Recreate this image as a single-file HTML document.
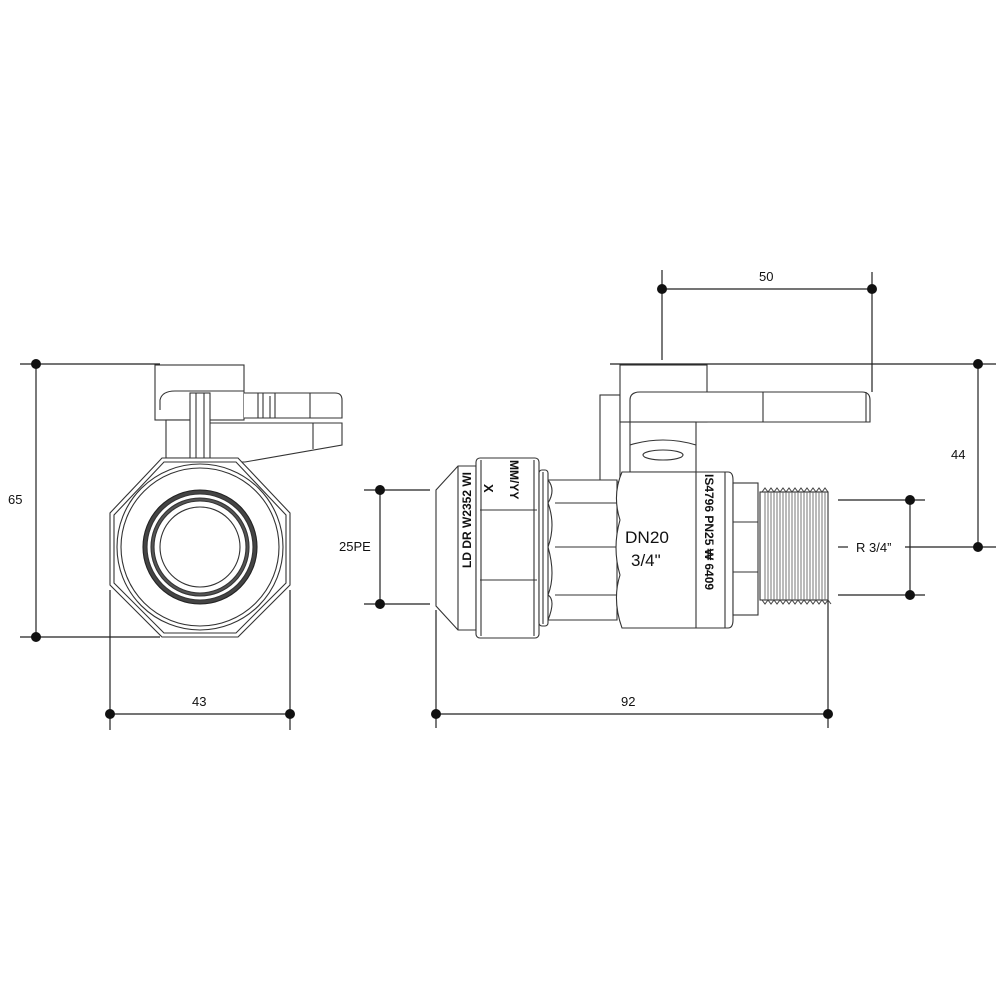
<!DOCTYPE html>
<html><head><meta charset="utf-8"><style>
html,body{margin:0;padding:0;background:#fff;}
svg{display:block;}
text{font-family:"Liberation Sans",sans-serif;fill:#111;}
</style></head><body>
<svg width="1000" height="1000" viewBox="0 0 1000 1000" xmlns="http://www.w3.org/2000/svg">
<g stroke="#222" stroke-width="1.2" fill="none">
<line x1="20" y1="364" x2="160" y2="364"/>
<line x1="20" y1="637" x2="160" y2="637"/>
<line x1="36" y1="364" x2="36" y2="637"/>
<line x1="110" y1="590" x2="110" y2="730"/>
<line x1="290" y1="590" x2="290" y2="730"/>
<line x1="110" y1="714" x2="290" y2="714"/>
<line x1="662" y1="270" x2="662" y2="360"/>
<line x1="872" y1="272" x2="872" y2="392"/>
<line x1="662" y1="289" x2="872" y2="289"/>
<line x1="610" y1="364" x2="996" y2="364"/>
<line x1="978" y1="364" x2="978" y2="547"/>
<line x1="838" y1="547" x2="848" y2="547"/>
<line x1="905" y1="547" x2="996" y2="547"/>
<line x1="838" y1="500" x2="925" y2="500"/>
<line x1="838" y1="595" x2="925" y2="595"/>
<line x1="910" y1="500" x2="910" y2="595"/>
<line x1="364" y1="490" x2="430" y2="490"/>
<line x1="364" y1="604" x2="430" y2="604"/>
<line x1="380" y1="490" x2="380" y2="604"/>
<line x1="436" y1="610" x2="436" y2="728"/>
<line x1="828" y1="600" x2="828" y2="728"/>
<line x1="436" y1="714" x2="828" y2="714"/>
</g>
<g fill="#111">
<circle cx="36" cy="364" r="5"/><circle cx="36" cy="637" r="5"/>
<circle cx="110" cy="714" r="5"/><circle cx="290" cy="714" r="5"/>
<circle cx="662" cy="289" r="5"/><circle cx="872" cy="289" r="5"/>
<circle cx="978" cy="364" r="5"/><circle cx="978" cy="547" r="5"/>
<circle cx="910" cy="500" r="5"/><circle cx="910" cy="595" r="5"/>
<circle cx="380" cy="490" r="5"/><circle cx="380" cy="604" r="5"/>
<circle cx="436" cy="714" r="5"/><circle cx="828" cy="714" r="5"/>
</g>
<g font-size="13">
<text x="8" y="504">65</text>
<text x="192" y="706">43</text>
<text x="759" y="281">50</text>
<text x="951" y="459">44</text>
<text x="856" y="552">R 3/4”</text>
<text x="339" y="551">25PE</text>
<text x="621" y="706">92</text>
</g>

<g stroke="#333" stroke-width="1.1" fill="#fff">
<rect x="155" y="365" width="89" height="55"/>
<rect x="166" y="420" width="35" height="38"/>
<path d="M201 423 L342 423 L342 445 L245 462 L201 462 Z"/>
<line x1="313" y1="423" x2="313" y2="449"/>
<path d="M160 410 L160 400 Q162 391 175 391 L244 391"/>
<path d="M244 393 L335 393 Q342 393 342 400 L342 418 L244 418"/>
<line x1="258" y1="393" x2="258" y2="418"/><line x1="263" y1="393" x2="263" y2="418"/>
<line x1="270" y1="396" x2="270" y2="418"/><line x1="275" y1="393" x2="275" y2="418"/>
<line x1="310" y1="393" x2="310" y2="418"/>
<rect x="190" y="393" width="20" height="67"/>
<line x1="196" y1="393" x2="196" y2="460"/><line x1="204" y1="393" x2="204" y2="460"/>
<polygon points="162,458 238,458 290,513 290,585 238,637 162,637 110,585 110,513"/>
<polygon points="164,462 236,462 286,515 286,583 236,633 164,633 114,583 114,515" fill="none"/>
<circle cx="200" cy="547" r="83"/>
<circle cx="200" cy="547" r="79" fill="none"/>
<circle cx="200" cy="547" r="57" fill="#444" stroke="#222"/>
<circle cx="200" cy="547" r="53" fill="#fff"/>
<circle cx="200" cy="547" r="49" fill="#555"/>
<circle cx="200" cy="547" r="46" fill="#fff"/>
<circle cx="200" cy="547" r="40"/>
</g>

<g stroke="#333" stroke-width="1.1" fill="#fff">
<rect x="600" y="395" width="20" height="87"/>
<rect x="620" y="365" width="87" height="57"/>
<path d="M630 422 L630 400 Q630 392 640 392 L862 392 Q870 392 870 400 L870 422 Z"/>
<line x1="763" y1="392" x2="763" y2="422"/>
<line x1="866" y1="392" x2="866" y2="422"/>
<rect x="630" y="422" width="66" height="50"/>
<ellipse cx="663" cy="455" rx="20" ry="5"/>
<path d="M630 445 Q663 435 696 445" fill="none"/>
<path d="M548 480 L617 480 L617 620 L548 620 Q556 600 548 595 Q556 575 548 547 Q556 525 548 503 Q556 490 548 480 Z"/>
<line x1="555" y1="503" x2="617" y2="503"/>
<line x1="555" y1="547" x2="617" y2="547"/>
<line x1="555" y1="595" x2="617" y2="595"/>
<path d="M622 472 L728 472 Q733 472 733 480 L733 620 Q733 628 728 628 L622 628 Q612 600 620 575 Q612 548 620 520 Q612 495 622 472 Z"/>
<line x1="696" y1="472" x2="696" y2="628"/>
<line x1="725" y1="472" x2="725" y2="628"/>
<rect x="733" y="483" width="25" height="132"/>
<line x1="733" y1="522" x2="758" y2="522"/><line x1="733" y1="572" x2="758" y2="572"/>
<rect x="760" y="492" width="68" height="108" fill="#fff"/>
<polygon points="436,490 458,466 476,466 476,630 458,630 436,606"/>
<line x1="458" y1="466" x2="458" y2="630"/>
<rect x="476" y="458" width="63" height="180" rx="4"/>
<line x1="480" y1="510" x2="537" y2="510"/>
<line x1="480" y1="580" x2="537" y2="580"/>
<line x1="481" y1="460" x2="481" y2="636"/>
<line x1="534" y1="460" x2="534" y2="636"/>
<rect x="539" y="470" width="9" height="156" rx="3"/>
<line x1="543" y1="472" x2="543" y2="624"/>
</g>
<g stroke="#444" stroke-width="1" fill="none">
<path d="M762 492 l3 -4 l3 4 l3 -4 l3 4 l3 -4 l3 4 l3 -4 l3 4 l3 -4 l3 4 l3 -4 l3 4 l3 -4 l3 4 l3 -4 l3 4 l3 -4 l3 4 l3 -4 l3 4 l3 -4 l3 4"/>
<path d="M762 600 l3 4 l3 -4 l3 4 l3 -4 l3 4 l3 -4 l3 4 l3 -4 l3 4 l3 -4 l3 4 l3 -4 l3 4 l3 -4 l3 4 l3 -4 l3 4 l3 -4 l3 4 l3 -4 l3 4 l3 -4 l3 4"/>
<path d="M765 492 V600 M768 492 V600 M771 492 V600 M774 492 V600 M777 492 V600 M780 492 V600 M783 492 V600 M786 492 V600 M789 492 V600 M792 492 V600 M795 492 V600 M798 492 V600 M801 492 V600 M804 492 V600 M807 492 V600 M810 492 V600 M813 492 V600 M816 492 V600 M819 492 V600 M822 492 V600 M825 492 V600" stroke="#666" stroke-width="0.9"/>
</g>
<g font-size="17">
<text x="625" y="543" textLength="44" lengthAdjust="spacingAndGlyphs">DN20</text>
<text x="631" y="566">3/4"</text>
</g>
<text transform="translate(471,568) rotate(-90)" font-size="12" font-weight="bold">LD DR W2352 WI</text>
<text transform="translate(484,484) rotate(90)" font-size="13" font-weight="bold">X</text>
<text transform="translate(510,460) rotate(90)" font-size="12" font-weight="bold">MM/YY</text>
<text transform="translate(705,474) rotate(90)" font-size="12" font-weight="bold">IS4796  PN25  ₩  6409</text>
</svg>
</body></html>
